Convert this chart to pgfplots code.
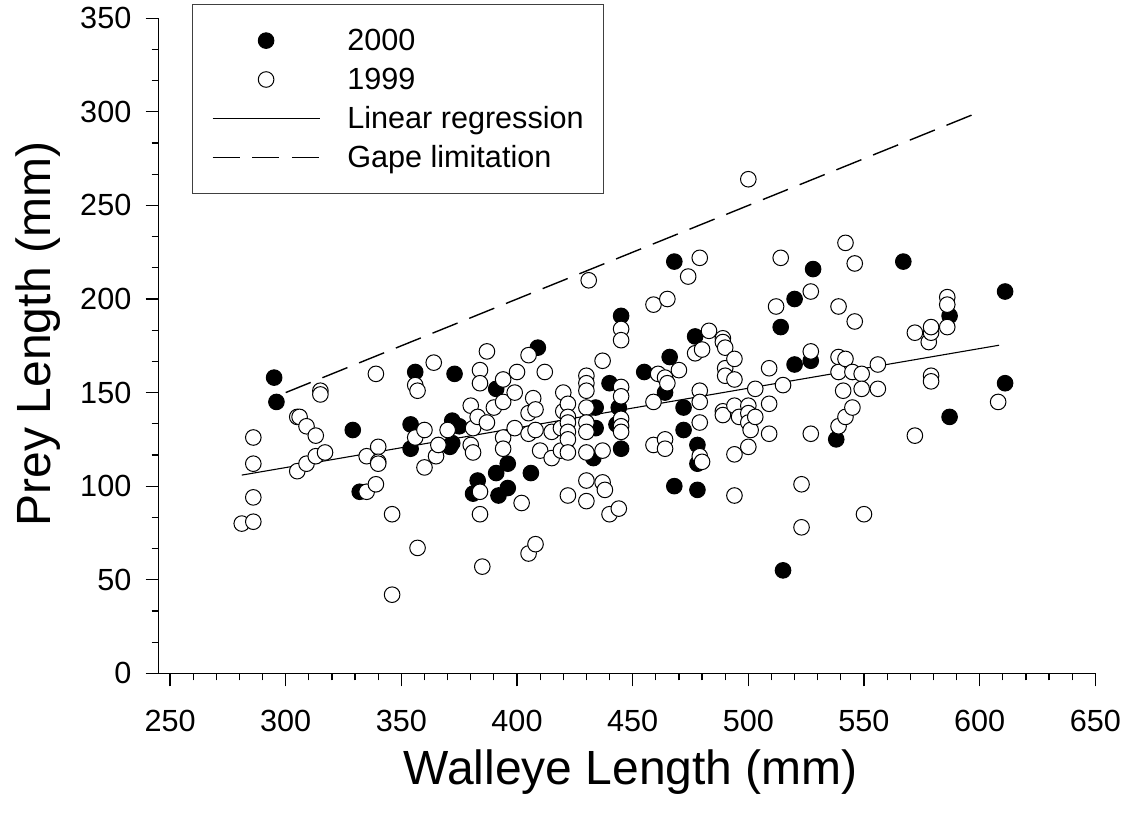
\documentclass[border=0pt]{standalone}
\usepackage{fontspec}
\setmainfont{Liberation Sans}
\usepackage{pgfplots}
\usepackage{pgfplotstable}
\pgfplotsset{compat=1.18}

\pgfplotstableread{
x y
295 158
296 145
329 130
332 97
354 133
354 120
356 161
373 160
372 135
375 132
372 123
371 121
381 96
383 103
391 107
392 95
391 152
396 112
396 99
406 107
409 174
434 142
434 131
433 115
440 155
444 142
445 120
445 191
443 133
455 161
466 169
464 150
468 220
468 100
472 142
472 130
477 180
478 122
478 112
478 98
514 185
515 55
520 200
520 165
527 167
528 216
538 125
567 220
587 191
587 137
611 204
611 155
}\filledtab

\pgfplotstableread{
x y
281 80
286 126
286 112
286 94
286 81
305 137
306 137
305 108
309 132
309 112
313 127
313 116
315 151
315 149
317 118
335 116
335 97
339 160
339 101
340 121
340 113
340 112
346 85
346 42
356 154
357 151
356 126
357 67
360 130
360 110
364 166
365 116
366 122
370 130
380 143
380 122
381 118
381 131
383 137
384 162
384 155
384 97
384 85
385 57
387 172
387 134
390 142
394 157
394 145
394 126
394 120
399 150
399 131
400 161
402 91
405 170
405 139
405 128
405 64
407 147
408 141
408 130
408 69
410 119
412 161
415 129
415 115
419 131
419 119
420 150
420 140
422 144
422 137
422 134
422 129
422 125
422 118
422 95
430 159
430 155
430 151
430 142
430 134
430 129
430 118
430 103
430 92
431 210
437 167
437 119
437 102
438 98
440 85
444 88
445 184
445 178
445 153
445 148
445 136
445 132
445 129
459 197
459 145
459 122
461 160
464 158
464 125
464 120
465 200
465 155
470 162
474 212
477 171
479 222
479 151
479 145
479 134
479 116
480 173
480 113
483 183
489 179
489 177
489 140
489 138
490 174
490 163
490 159
494 168
494 157
494 143
494 117
494 95
496 137
500 264
500 143
500 139
500 134
500 121
501 130
503 152
503 137
509 163
509 144
509 128
512 196
514 222
515 154
523 101
523 78
527 204
527 172
527 128
539 196
539 169
539 161
539 132
541 151
542 230
542 168
542 137
545 161
545 142
546 219
546 188
549 160
549 152
550 85
556 165
556 152
572 182
572 127
578 177
579 182
579 185
579 159
579 156
586 201
586 197
586 185
608 145
}\opentab

\begin{document}
\begin{tikzpicture}
\useasboundingbox (-79.35pt,-71.85pt) rectangle (483.15pt,336.65pt);
\begin{axis}[
  at={(0,0)}, anchor=south west,
  scale only axis, width=468.3pt, height=327.5pt,
  xmin=245.1, xmax=650, ymin=0, ymax=350,
  axis x line=bottom, axis y line=left,
  axis line style={-, line width=0.6pt, black},
  xtick={250,300,...,650}, ytick={0,50,...,350},
  minor x tick num=4, minor y tick num=2,
  tick align=outside, major tick length=6.5pt, minor tick length=3.5pt,
  every tick/.style={line width=0.6pt, black},
  /pgf/number format/assume math mode=true,
  ticklabel style={font=\fontsize{15.3}{18}\selectfont},
  xticklabel style={anchor=north, inner sep=0pt},
  yticklabel style={anchor=east, inner sep=0pt},
  xticklabel shift=11.85pt, yticklabel shift=7pt,
  label style={font=\fontsize{24}{28}\selectfont},
  xlabel={Walleye Length (mm)}, ylabel={Prey Length (mm)},
  xlabel style={at={(axis description cs:0.504,-0.1705)}, anchor=base},
  ylabel style={at={(axis description cs:-0.116,0.518)}, anchor=base},
  clip=false,
  legend image code/.code={\draw[mark repeat=2,mark phase=2,#1] plot coordinates {(0pt,0pt)(26.75pt,0pt)(53.5pt,0pt)};},
  legend style={at={(axis description cs:0,1)}, anchor=north west,
    xshift=16.5pt, yshift=7.15pt, draw=black!75, line width=0.6pt,
    inner xsep=9.8pt, inner ysep=10.5pt, row sep=4.45pt, column sep=13.5pt,
    font=\fontsize{15.3}{18}\selectfont,
    nodes={inner sep=0pt, anchor=west, text height=12.5pt, text depth=2.5pt}},
  legend cell align=left,
]
\addplot[forget plot, black, line width=0.55pt] coordinates {(281,105.9) (608.4,175.3)};
\addplot[forget plot, black, line width=0.7pt, dash pattern=on 13.5pt off 6.3pt] coordinates {(300,150) (600,300)};
\addplot[only marks, mark=*, mark size=3.9pt, mark options={fill=black, draw=black, line width=0.5pt}] table[x=x,y=y] {\filledtab};
\addlegendentry{2000}
\addplot[only marks, mark=*, mark size=3.9pt, mark options={fill=white, draw=black, line width=0.5pt}] table[x=x,y=y] {\opentab};
\addlegendentry{1999}
\addlegendimage{black, line width=0.55pt}
\addlegendentry{Linear regression}
\addlegendimage{black, line width=0.7pt, dash pattern=on 13.5pt off 6.3pt}
\addlegendentry{Gape limitation}
\end{axis}
\end{tikzpicture}
\end{document}
